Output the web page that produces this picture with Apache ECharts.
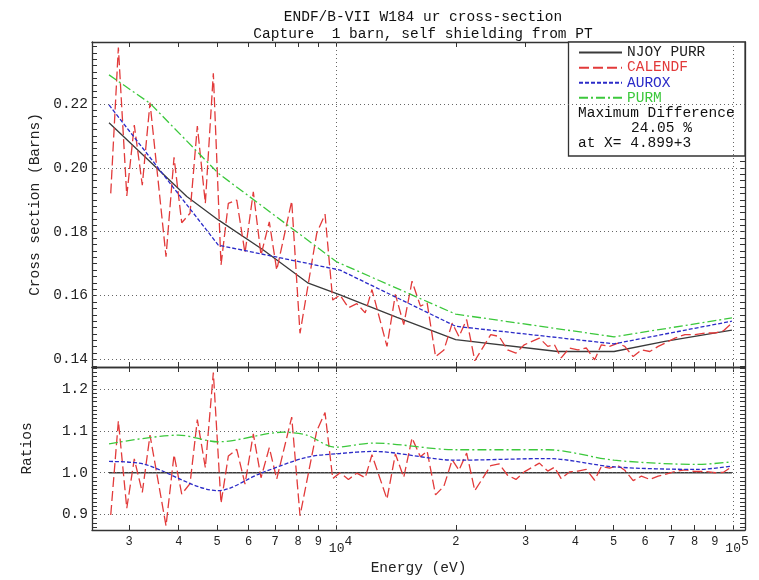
<!DOCTYPE html>
<html><head><meta charset="utf-8">
<script src="https://cdn.jsdelivr.net/npm/echarts@6/dist/echarts.min.js"></script>
<style>html,body{margin:0;padding:0;background:#fff}#c{width:759px;height:580px}</style>
</head><body><div id="c"></div>
<script>
// ---- data ----
const njoyE   = [2668, 4191, 5033, 6537, 8488, 10205, 14210, 19970, 36140, 50110, 67330, 99360];
const njoyXS  = [0.2141, 0.1910, 0.1837, 0.1743, 0.1639, 0.1602, 0.1532, 0.1462, 0.1425, 0.1425, 0.1457, 0.1492];
const auroxE  = [2668, 5033, 10205, 19970, 50110, 99360];
const auroxXS = [0.2197, 0.1758, 0.1680, 0.1504, 0.1449, 0.1520];
const purmE   = [2668, 3385, 5033, 10000, 19970, 50110, 99360];
const purmXS  = [0.2291, 0.2202, 0.1983, 0.1706, 0.1542, 0.1471, 0.1530];
const calendfE = [2695, 2817, 2958, 3090, 3237, 3385, 3715, 3892, 4070, 4271,
  4456, 4668, 4890, 5113, 5335, 5602, 5877, 6168, 6450, 6768,
  7066, 7709, 8089, 8914, 9354, 9781, 10205, 10715, 11250, 11813,
  12284, 13404, 14074, 14775, 15503, 16279, 16925, 17771, 18660, 19580,
  20360, 21290, 22320, 24490, 25710, 27000, 28350, 29750, 32480, 34100,
  35450, 36860, 38670, 40610, 42640, 44770, 46550, 48840, 51290, 53330,
  56000, 58750, 61690, 64760, 67330, 71370, 75660, 80200, 85050, 90130,
  94620, 99360];
const calendfXS = [0.1920,0.2377,0.1912,0.2134,0.1946,0.2204,0.1722,0.2033,0.1828,0.1858,
  0.2131,0.1889,0.2296,0.1696,0.1889,0.1899,0.1733,0.1925,0.1727,0.1831,
  0.1680,0.1896,0.1482,0.1795,0.1855,0.1586,0.1602,0.1562,0.1575,0.1546,
  0.1619,0.1441,0.1604,0.1509,0.1645,0.1567,0.1577,0.1409,0.1430,0.1514,
  0.1472,0.1525,0.1396,0.1478,0.1472,0.1430,0.1420,0.1446,0.1467,0.1441,
  0.1446,0.1405,0.1436,0.1430,0.1436,0.1399,0.1446,0.1441,0.1451,0.1441,
  0.1409,0.1430,0.1425,0.1441,0.1451,0.1467,0.1478,0.1478,0.1483,0.1483,
  0.1490,0.1514];
const calendfRatio = [0.899,1.124,0.915,1.033,0.953,1.090,0.873,1.043,0.949,0.974,
  1.127,1.012,1.240,0.927,1.040,1.056,0.973,1.093,0.988,1.060,
  0.985,1.133,0.897,1.100,1.144,0.986,1.000,0.984,0.999,0.988,
  1.043,0.937,1.045,0.989,1.083,1.038,1.052,0.947,0.968,1.031,
  1.006,1.047,0.957,1.017,1.021,0.994,0.984,1.002,1.023,1.004,
  1.013,0.986,1.002,1.004,1.008,0.982,1.015,1.011,1.017,1.006,
  0.981,0.992,0.984,0.992,0.996,1.003,1.007,1.003,1.003,1.000,
  1.001,1.015];
const njoyRatioE = [2668, 99360];
const njoyRatio  = [1.0, 1.0];
const auroxRatioE = [2668, 3256, 5033, 6413, 8409, 10205, 12400, 19970, 34100, 50110, 81760, 99360];
const auroxRatio  = [1.027, 1.021, 0.957, 0.998, 1.037, 1.046, 1.051, 1.030, 1.034, 1.014, 1.008, 1.016];
const purmRatioE = [2668, 3990, 5033, 7340, 8409, 9913, 12400, 19970, 34100, 50110, 81760, 99360];
const purmRatio  = [1.069, 1.090, 1.074, 1.097, 1.090, 1.061, 1.071, 1.055, 1.055, 1.030, 1.020, 1.026];

// tick values / labels
const xTickValues = [3000,4000,5000,6000,7000,8000,9000,10000,20000,30000,40000,50000,60000,70000,80000,90000,100000];
const xsTickValues = [0.14, 0.16, 0.18, 0.20, 0.22];
const ratioTickValues = [0.9, 1.0, 1.1, 1.2];
const decadeLines = [10000, 100000];
const seriesNames = ['NJOY PURR', 'CALENDF', 'AUROX', 'PURM'];
const titleLines = ['ENDF/B-VII W184 ur cross-section', 'Capture  1 barn, self shielding from PT'];
const boxLines = ['Maximum Difference', '24.05 %', 'at X= 4.899+3'];

// ---- layout / style ----
const MONO = 'Liberation Mono';
const COLORS = ['#3a3a3a', '#e23a3a', '#2b2bc8', '#3cc83c'];
const DASH = ['solid', [10, 4], [4, 2], [9, 3, 2, 3]];
const X_MIN = 2417, X_MAX = 107200;
const XS_MIN = 0.13765, XS_MAX = 0.2394;
const R_MIN = 0.863, R_MAX = 1.253;

function pairs(xs, ys) { return xs.map((x, i) => [x, ys[i]]); }
function range(a, b, step) { const r = []; for (let v = a; v <= b + 1e-9; v += step) r.push(+v.toFixed(4)); return r; }
const xsMinor = range(0.138, 0.238, 0.002);
const rMinor = range(0.87, 1.25, 0.01);

const axisLine = { show: true, onZero: false, lineStyle: { color: '#333', width: 1.3 } };
const tickLine = { color: '#333', width: 1 };

function xAxisCfg(grid, pos, labels) {
  return {
    type: 'log', logBase: 10, gridIndex: grid, position: pos, min: X_MIN, max: X_MAX,
    axisLine: axisLine,
    axisTick: { show: true, inside: true, length: 5, customValues: xTickValues, lineStyle: tickLine },
    axisLabel: {
      show: labels, customValues: xTickValues, margin: 5, color: '#222',
      fontFamily: MONO, fontSize: 12,
      formatter: function (v) {
        const e = Math.round(Math.log10(v));
        const m = Math.round(v / Math.pow(10, Math.floor(Math.log10(v) + 1e-9)));
        if (m === 1) return '{b|10}{s|' + e + '}';
        return '{n|' + m + '}';
      },
      rich: {
        n: { fontFamily: MONO, fontSize: 12, color: '#222', verticalAlign: 'bottom', padding: [1, 0, 0, 0] },
        b: { fontFamily: MONO, fontSize: 13, color: '#222', verticalAlign: 'bottom', padding: [0, 0, 0, 8] },
        s: { fontFamily: MONO, fontSize: 13, color: '#222', verticalAlign: 'bottom', padding: [0, 0, 7, 0] }
      }
    },
    splitLine: { show: false }, minorTick: { show: false }, minorSplitLine: { show: false }
  };
}
function yAxisCfg(grid, pos, min, max, minor, majors, digits, name, gap) {
  return {
    type: 'value', gridIndex: grid, position: pos, min: min, max: max,
    axisLine: axisLine,
    axisTick: { show: true, inside: true, length: 5, customValues: minor, lineStyle: tickLine },
    axisLabel: {
      show: pos === 'left', customValues: majors, margin: 4, color: '#222',
      fontFamily: MONO, fontSize: 14.5, formatter: v => v.toFixed(digits)
    },
    splitLine: { show: false },
    name: pos === 'left' ? name : '', nameLocation: 'middle', nameGap: gap,
    nameTextStyle: { fontFamily: MONO, fontSize: 14.5, color: '#222' }
  };
}
const gridLineStyle = { type: [1, 3], color: '#666', width: 1 };
function gridMarks(hVals) {
  return {
    silent: true, symbol: ['none', 'none'], label: { show: false }, animation: false,
    lineStyle: gridLineStyle, emphasis: { disabled: true },
    data: hVals.map(v => ({ yAxis: v })).concat(decadeLines.map(v => ({ xAxis: v })))
  };
}
function line(name, idx, data, xi, yi, extra) {
  return Object.assign({
    name: name, type: 'line', xAxisIndex: xi, yAxisIndex: yi, data: data,
    symbol: 'none', showSymbol: false, animation: false,
    lineStyle: { color: COLORS[idx], width: 1.3, type: DASH[idx] },
    itemStyle: { color: COLORS[idx] }, z: 2 + idx * 0.1
  }, extra || {});
}

const chart = echarts.init(document.getElementById('c'), null, { renderer: 'canvas' });
chart.setOption({
  backgroundColor: '#fff',
  animation: false,
  title: {
    text: titleLines.join('\n'), left: 418, top: 4, textAlign: 'center',
    textStyle: { fontFamily: MONO, fontSize: 14.5, fontWeight: 'normal', color: '#111', lineHeight: 17 }
  },
  legend: {
    orient: 'vertical', left: 578, top: 45, itemWidth: 43, itemHeight: 10, itemGap: 0,
    padding: 0, itemTextGap: 10, z: 6,
    itemStyle: { opacity: 0, borderWidth: 0 },
    data: seriesNames.map((n, i) => ({ name: n, textStyle: { color: i === 0 ? '#222' : COLORS[i] } })),
    textStyle: { fontFamily: MONO, fontSize: 14.5, lineHeight: 15.1 }
  },
  grid: [
    { left: 92, top: 42, width: 653, height: 325 },
    { left: 92, top: 367, width: 653, height: 163 }
  ],
  xAxis: [
    xAxisCfg(0, 'bottom', false), xAxisCfg(0, 'top', false),
    Object.assign(xAxisCfg(1, 'bottom', true), {
      name: 'Energy (eV)', nameLocation: 'middle', nameGap: 31,
      nameTextStyle: { fontFamily: MONO, fontSize: 14.5, color: '#222' }
    }),
    xAxisCfg(1, 'top', false)
  ],
  yAxis: [
    yAxisCfg(0, 'left', XS_MIN, XS_MAX, xsMinor, xsTickValues, 2, 'Cross section (Barns)', 47),
    yAxisCfg(0, 'right', XS_MIN, XS_MAX, xsMinor, xsTickValues, 2, '', 0),
    yAxisCfg(1, 'left', R_MIN, R_MAX, rMinor, ratioTickValues, 1, 'Ratios', 57),
    yAxisCfg(1, 'right', R_MIN, R_MAX, rMinor, ratioTickValues, 1, '', 0)
  ],
  graphic: [
    { type: 'rect', z: 5, shape: { x: 568.5, y: 42, width: 176.5, height: 114 },
      style: { fill: '#fff', stroke: '#333', lineWidth: 1.3 } },
    { type: 'text', z: 6, style: { text: boxLines[0], x: 578, y: 112.8, verticalAlign: 'middle', font: '14.5px "Liberation Mono"', fill: '#111' } },
    { type: 'text', z: 6, style: { text: boxLines[1], x: 631, y: 127.9, verticalAlign: 'middle', font: '14.5px "Liberation Mono"', fill: '#111' } },
    { type: 'text', z: 6, style: { text: boxLines[2], x: 578, y: 143, verticalAlign: 'middle', font: '14.5px "Liberation Mono"', fill: '#111' } }
  ],
  series: [
    line(seriesNames[0], 0, pairs(njoyE, njoyXS), 0, 0, { markLine: gridMarks(xsTickValues) }),
    line(seriesNames[1], 1, pairs(calendfE, calendfXS), 0, 0),
    line(seriesNames[2], 2, pairs(auroxE, auroxXS), 0, 0),
    line(seriesNames[3], 3, pairs(purmE, purmXS), 0, 0),
    line(seriesNames[0], 0, pairs(njoyRatioE, njoyRatio), 2, 2, { markLine: gridMarks(ratioTickValues) }),
    line(seriesNames[1], 1, pairs(calendfE, calendfRatio), 2, 2),
    line(seriesNames[2], 2, pairs(auroxRatioE, auroxRatio), 2, 2, { smooth: 0.3 }),
    line(seriesNames[3], 3, pairs(purmRatioE, purmRatio), 2, 2, { smooth: 0.3 })
  ]
});
</script>
</body></html>
